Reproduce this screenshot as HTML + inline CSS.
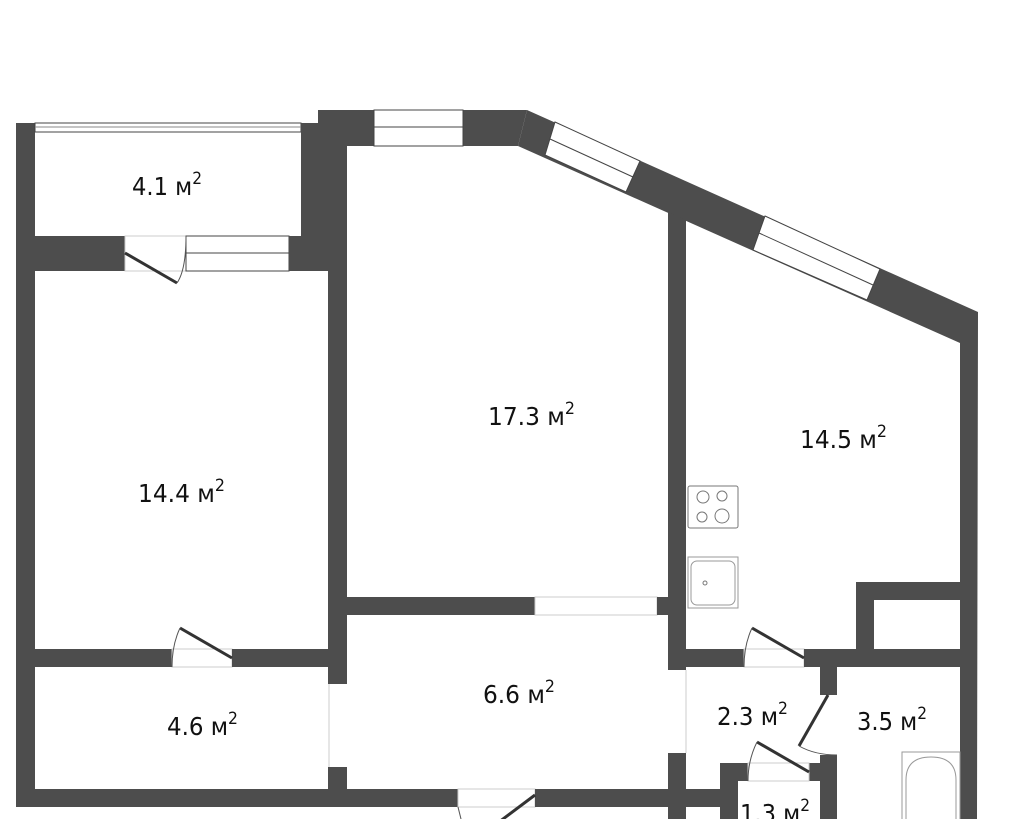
<!DOCTYPE html>
<html><head><meta charset="utf-8"><style>
html,body{margin:0;padding:0;background:#fff;}
svg{display:block}
text{font-family:"DejaVu Sans Condensed","Liberation Sans",sans-serif;font-size:25px;fill:#111}
.w{fill:#4d4d4d}
.t{stroke:#ccc;stroke-width:1;fill:none}
.l{stroke:#333;stroke-width:3;fill:none}
.a{stroke:#555;stroke-width:1;fill:none}
.win{fill:#fff;stroke:#444;stroke-width:1}
</style></head><body>
<svg width="1024" height="819" viewBox="0 0 1024 819" xmlns="http://www.w3.org/2000/svg">
<rect class="w" x="16" y="123" width="19" height="684"/>
<rect class="win" x="35" y="123" width="266" height="9"/>
<line x1="35" y1="127" x2="301" y2="127" stroke="#888"/>
<polygon class="w" points="301,123 318,123 318,110 527,110 518,146 347,146 347,271 328,271 301,245"/>
<rect class="win" x="374" y="110" width="89" height="36"/>
<line x1="374" y1="127" x2="463" y2="127" stroke="#444"/>
<rect class="w" x="35" y="236" width="90" height="35"/>
<rect class="t" x="125" y="236" width="61" height="35"/>
<rect class="win" x="186" y="236" width="103" height="35"/>
<line x1="186" y1="253" x2="289" y2="253" stroke="#444"/>
<rect class="w" x="289" y="236" width="39" height="35"/>
<line class="l" x1="125" y1="253" x2="177" y2="283"/>
<path class="a" d="M177,283 Q186,270 186,236"/>
<polygon class="w" points="527,110 978,312 977,819 960,819 960,343 518,146"/>
<polygon class="win" points="555,122 640,161 626,192 545,155"/>
<line x1="550" y1="139" x2="633" y2="177" stroke="#444"/>
<polygon class="win" points="765,216 880,269 867,300 753,250"/>
<line x1="759" y1="233" x2="873" y2="285" stroke="#444"/>
<polygon class="w" points="668,212 686,220 686,670 668,670"/>
<rect class="w" x="668" y="753" width="18" height="66"/>
<line class="t" x1="686" y1="670" x2="686" y2="753"/>
<rect class="w" x="328" y="271" width="19" height="413"/>
<rect class="w" x="328" y="767" width="19" height="40"/>
<line class="t" x1="329" y1="684" x2="329" y2="767"/>
<rect class="w" x="347" y="597" width="188" height="18"/>
<rect class="t" x="535" y="597" width="122" height="18"/>
<rect class="w" x="657" y="597" width="11" height="18"/>
<rect class="w" x="35" y="649" width="137" height="18"/>
<rect class="t" x="172" y="649" width="60" height="18"/>
<rect class="w" x="232" y="649" width="96" height="18"/>
<line class="l" x1="180" y1="628" x2="232" y2="658"/>
<path class="a" d="M180,628 Q172,645 172,667"/>
<rect class="w" x="16" y="789" width="442" height="18"/>
<rect class="t" x="458" y="789" width="77" height="18"/>
<rect class="w" x="535" y="789" width="133" height="18"/>
<line class="l" x1="535" y1="795" x2="495" y2="825"/>
<path class="a" d="M458,807 Q460,815 461,819"/>
<rect class="w" x="686" y="789" width="34" height="18"/>
<rect class="w" x="668" y="649" width="76" height="18"/>
<rect class="t" x="744" y="649" width="60" height="18"/>
<rect class="w" x="804" y="649" width="156" height="18"/>
<line class="l" x1="804" y1="658" x2="752" y2="628"/>
<path class="a" d="M752,628 Q744,645 744,667"/>
<rect class="w" x="856" y="582" width="18" height="67"/>
<rect class="w" x="856" y="582" width="104" height="18"/>
<rect class="w" x="820" y="667" width="17" height="28"/>
<rect class="w" x="820" y="755" width="17" height="64"/>
<line class="l" x1="828" y1="695" x2="799" y2="746"/>
<path class="a" d="M799,746 Q815,755 837,755"/>
<rect class="w" x="720" y="763" width="18" height="56"/>
<rect class="w" x="720" y="763" width="28" height="18"/>
<rect class="w" x="809" y="763" width="28" height="18"/>
<rect class="t" x="748" y="763" width="61" height="18"/>
<line class="l" x1="809" y1="772" x2="757" y2="742"/>
<path class="a" d="M757,742 Q748,760 748,781"/>
<rect x="902" y="752" width="58" height="80" fill="#fff" stroke="#999"/>
<path d="M906,819 V780 Q906,757 931,757 Q956,757 956,780 V819" fill="none" stroke="#999"/>
<rect x="688" y="486" width="50" height="42" rx="2" fill="#fff" stroke="#777"/>
<circle cx="703" cy="497" r="6" fill="none" stroke="#777"/>
<circle cx="722" cy="496" r="5" fill="none" stroke="#777"/>
<circle cx="702" cy="517" r="5" fill="none" stroke="#777"/>
<circle cx="722" cy="516" r="7" fill="none" stroke="#777"/>
<rect x="688" y="557" width="50" height="51" fill="#fff" stroke="#999"/>
<rect x="691" y="561" width="44" height="44" rx="6" fill="#fff" stroke="#999"/>
<circle cx="705" cy="583" r="2" fill="none" stroke="#777"/>
<text x="132" y="195" textLength="70" lengthAdjust="spacingAndGlyphs">4.1 м<tspan font-size="17" dy="-11">2</tspan></text>
<text x="488" y="425" textLength="87" lengthAdjust="spacingAndGlyphs">17.3 м<tspan font-size="17" dy="-11">2</tspan></text>
<text x="800" y="448" textLength="87" lengthAdjust="spacingAndGlyphs">14.5 м<tspan font-size="17" dy="-11">2</tspan></text>
<text x="138" y="502" textLength="87" lengthAdjust="spacingAndGlyphs">14.4 м<tspan font-size="17" dy="-11">2</tspan></text>
<text x="483" y="703" textLength="72" lengthAdjust="spacingAndGlyphs">6.6 м<tspan font-size="17" dy="-11">2</tspan></text>
<text x="167" y="735" textLength="71" lengthAdjust="spacingAndGlyphs">4.6 м<tspan font-size="17" dy="-11">2</tspan></text>
<text x="717" y="725" textLength="71" lengthAdjust="spacingAndGlyphs">2.3 м<tspan font-size="17" dy="-11">2</tspan></text>
<text x="857" y="730" textLength="70" lengthAdjust="spacingAndGlyphs">3.5 м<tspan font-size="17" dy="-11">2</tspan></text>
<text x="740" y="822" textLength="70" lengthAdjust="spacingAndGlyphs">1.3 м<tspan font-size="17" dy="-11">2</tspan></text>
</svg>
</body></html>
